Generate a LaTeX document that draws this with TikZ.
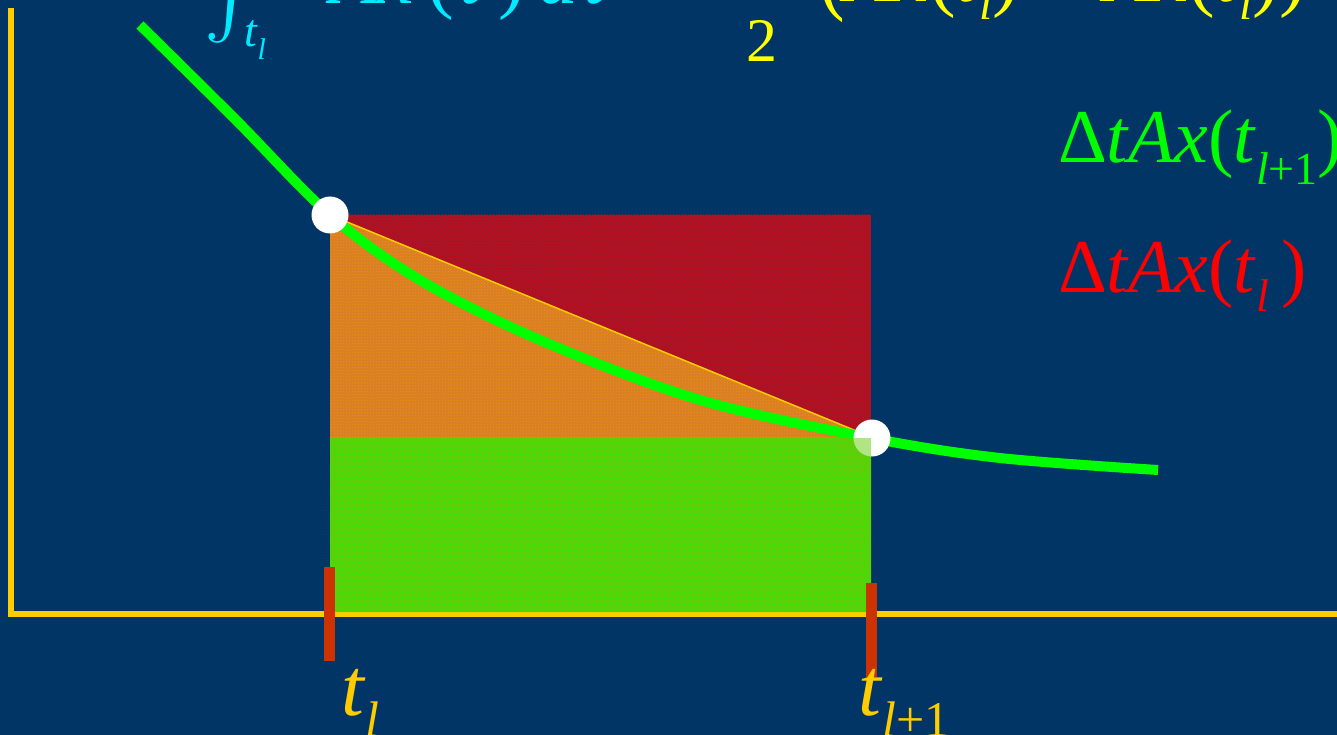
\documentclass[tikz,border=0pt]{standalone}
\usepackage{fontspec}
\setmainfont{Liberation Serif}
\usetikzlibrary{patterns}
\definecolor{bg}{RGB}{0,53,102}
\definecolor{axisc}{RGB}{255,204,0}
\definecolor{tickc}{RGB}{204,51,0}
\definecolor{redtex}{RGB}{165,22,42}
\definecolor{orangetex}{RGB}{214,128,40}
\definecolor{greentex}{RGB}{100,205,10}
\definecolor{curvec}{RGB}{0,255,0}
\definecolor{cyanc}{RGB}{0,235,255}
\definecolor{yel}{RGB}{255,255,0}
\definecolor{redc}{RGB}{255,0,0}
\newcommand\lowsub[3]{\raisebox{-#1}{\fontsize{#2}{#2}\selectfont #3}}
\tikzset{
  axisline/.style={draw=axisc,line width=6pt},
  tickbar/.style={fill=tickc},
  curveline/.style={draw=curvec,line width=10pt},
  whitedot/.style={circle,fill=white,minimum size=37pt,inner sep=0pt},
  diagline/.style={draw=axisc,line width=1.5pt},
  lbl/.style={anchor=base west,inner sep=0pt,outer sep=0pt},
  redarea/.style={fill=redtex,postaction={pattern=crosshatch dots,pattern color=red!85!black}},
  orangearea/.style={fill=orangetex,postaction={pattern=crosshatch dots,pattern color=orange!90!yellow}},
  greenarea/.style={fill=greentex,postaction={pattern=crosshatch dots,pattern color=green}},
}
\begin{document}
\begin{tikzpicture}[x=1pt,y=-1pt]
\useasboundingbox (0,0) rectangle (1337,735);
\clip (0,0) rectangle (1337,735);
\fill[bg] (0,0) rectangle (1337,735);
% areas
\path[redarea] (330,215) rectangle (871,614);
\path[orangearea] (330,215) -- (871,437) -- (871,614) -- (330,614) -- cycle;
\draw[axisline] (11,8) -- (11,614) -- (1337,614);
\path[greenarea] (330,437) rectangle (871,612);
\draw[diagline] (330,215) -- (871,437);
% ticks
\fill[tickbar] (324,567) rectangle (335,661);
\fill[tickbar] (866,583) rectangle (877,677);
% curve
\draw[curveline] plot[smooth,tension=0.55] coordinates {(140,25) (236,120) (330,215) (420,280) (540,340) (700,400) (871,438) (1000,458) (1158,470)};
\node[whitedot] (p1) at (330,215) {};
\node[whitedot] (p2) at (872,438) {};
\begin{scope}
\clip (p2.center) rectangle (840,470);
\fill[greentex,opacity=0.5] (330,437) rectangle (871,612);
\end{scope}
% axis labels
\node[lbl,text=axisc,font=\fontsize{82}{90}\selectfont] (tl) at (341,715) {\textit{t}\lowsub{0.26em}{50}{\textit{l}}};
\node[lbl,text=axisc,font=\fontsize{82}{90}\selectfont] (tl1) at (858,715) {\textit{t}\lowsub{0.26em}{50}{\textit{l}+1}};
% right labels
\node[lbl,text=curvec,font=\fontsize{76}{84}\selectfont] (lg) at (1058,163) {Δ\textit{tAx}(\textit{t}\lowsub{0.28em}{46}{\textit{l}+1})};
\node[lbl,text=redc,font=\fontsize{76}{84}\selectfont] (lr) at (1058,292) {Δ\textit{tAx}(\textit{t}\lowsub{0.25em}{46}{\textit{l}}\,)};
% top formula (cut off)
\node[anchor=south west,inner sep=0pt,text=cyanc] (int) at (204,44) {\scalebox{8}{$\int$}};
\node[lbl,text=cyanc,font=\fontsize{46}{50}\selectfont] (intl) at (244,47) {\textit{t}\lowsub{0.28em}{30}{\textit{l}}};
\node[lbl,text=cyanc,font=\fontsize{80}{90}\selectfont] (integrand) at (330,4) {\textit{Ax}\,(\textit{τ}\,)\,\textit{dτ}};
\node[lbl,text=yel,font=\fontsize{62}{70}\selectfont] (two) at (746,62) {2};
\node[lbl,text=yel,font=\fontsize{80}{90}\selectfont] (rhs) at (818,2) {\scalebox{1}[1.25]{(}\textit{Ax}(\textit{t}\lowsub{0.22em}{48}{\textit{l}}) + \textit{Ax}(\textit{t}\lowsub{0.22em}{48}{\textit{l}}))};
\end{tikzpicture}
\end{document}
